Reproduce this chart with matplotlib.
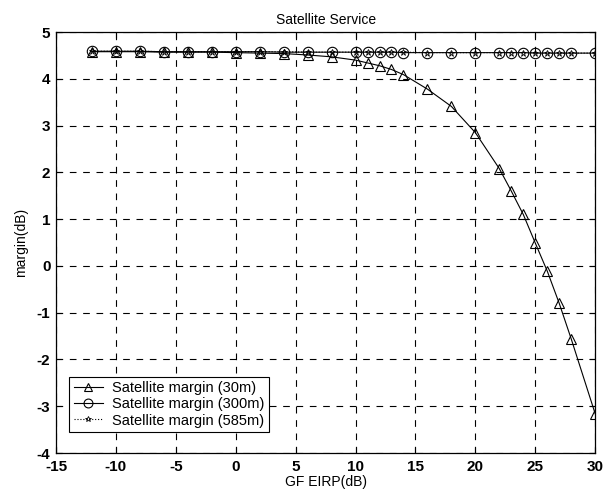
import matplotlib
matplotlib.use('Agg')
import matplotlib.pyplot as plt

plt.rcParams['font.family'] = ['Liberation Sans', 'DejaVu Sans']
plt.rcParams['axes.unicode_minus'] = False

# GF EIRP (dB)
eirp = [-12, -10, -8, -6, -4, -2, 0, 2, 4, 6, 8, 10, 11, 12, 13, 14, 16, 18,
        20, 22, 23, 24, 25, 26, 27, 28, 30]

margin_30m = [4.58, 4.58, 4.58, 4.57, 4.57, 4.57, 4.56, 4.55, 4.54, 4.51, 4.47,
              4.40, 4.34, 4.28, 4.20, 4.09, 3.78, 3.41, 2.85, 2.08, 1.60, 1.10,
              0.49, -0.11, -0.80, -1.56, -3.16]
margin_300m = [4.59, 4.59, 4.59, 4.58, 4.58, 4.58, 4.58, 4.58, 4.57, 4.57, 4.57,
               4.57, 4.57, 4.57, 4.57, 4.56, 4.56, 4.56, 4.56, 4.56, 4.56, 4.56,
               4.55, 4.55, 4.55, 4.55, 4.55]
margin_585m = [4.59, 4.59, 4.59, 4.58, 4.58, 4.58, 4.58, 4.58, 4.58, 4.57, 4.57,
               4.57, 4.57, 4.57, 4.57, 4.57, 4.56, 4.56, 4.56, 4.56, 4.56, 4.56,
               4.56, 4.55, 4.55, 4.55, 4.55]

fig = plt.figure(figsize=(6.12, 4.97), dpi=100)
ax = fig.add_axes([0.0915, 0.0885, 0.881, 0.847])

ax.plot(eirp, margin_30m, color='black', lw=0.8, marker='^', ms=7.5,
        mfc='none', mec='black', mew=0.8, label='Satellite margin (30m)')
ax.plot(eirp, margin_300m, color='black', lw=0.8, marker='o', ms=7.5,
        mfc='none', mec='black', mew=0.8, label='Satellite margin (300m)')
ax.plot(eirp, margin_585m, color='black', lw=0.8, ls=':', marker='*', ms=5,
        mfc='none', mec='black', mew=0.6, label='Satellite margin (585m)')

ax.set_xlim(-15, 30)
ax.set_ylim(-4, 5)
ax.set_xticks(range(-15, 31, 5))
ax.set_yticks(range(-4, 6))
ax.tick_params(direction='in', length=4, labelsize=11, width=0.8,
               top=True, right=True)
ax.tick_params(axis='x', pad=5)
ax.tick_params(axis='y', pad=4)
for lab in ax.get_xticklabels() + ax.get_yticklabels():
    lab.set_fontweight('bold')
ax.grid(True, color='black', ls=(0, (6, 6)), lw=0.8)
for s in ax.spines.values():
    s.set_linewidth(0.9)

ax.set_title('Satellite Service', fontsize=10, pad=6)
ax.set_xlabel('GF EIRP(dB)', fontsize=10, labelpad=1)
ax.set_ylabel('margin(dB)', fontsize=10, labelpad=6)

leg = ax.legend(loc='lower left', bbox_to_anchor=(0.025, 0.05), fontsize=10.5,
                fancybox=False, framealpha=1, edgecolor='black',
                borderpad=0.3, labelspacing=0.15, handlelength=2.0,
                handletextpad=0.6, borderaxespad=0, markerscale=0.85)
leg.get_frame().set_linewidth(0.8)

fig.savefig('out.png', dpi=100)
